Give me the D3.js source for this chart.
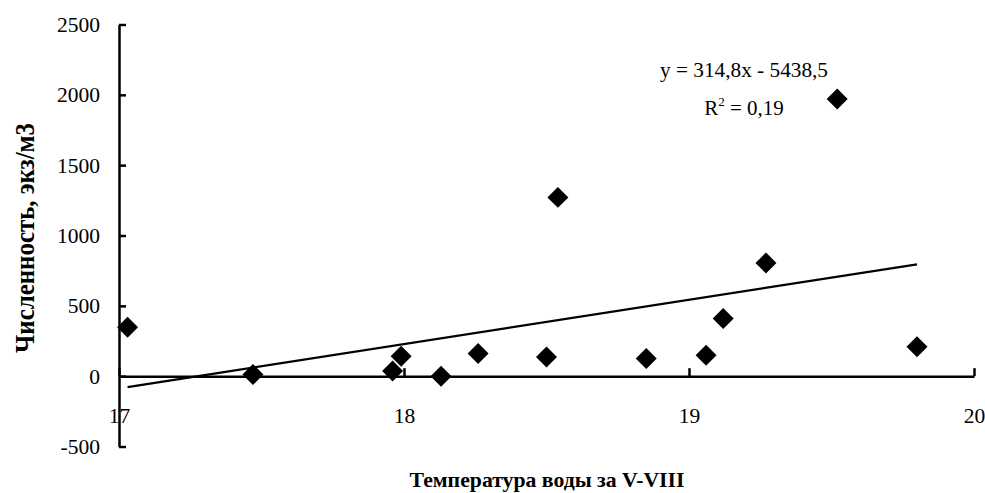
<!DOCTYPE html>
<meta charset="utf-8">
<script src="https://d3js.org/d3.v7.min.js"></script>
<style>
  body { margin: 0; background: #fff; }
  text { font-family: "Liberation Serif", "Times New Roman", serif; fill: #000; }
</style>
<svg id="chart" width="985" height="493"></svg>
<script>
// data
const temps  = [17.03, 17.47, 17.96, 17.99, 18.13, 18.26, 18.50, 18.54, 18.85, 19.06, 19.12, 19.27, 19.52, 19.80];
const counts = [348, 12, 36, 142, 0, 161, 137, 1271, 126, 149, 410, 805, 1970, 209];
const xTicks = [17, 18, 19, 20];
const yTicks = [-500, 0, 500, 1000, 1500, 2000, 2500];
const slope = 314.8, intercept = -5438.5;
const eqLabel = "y = 314,8x - 5438,5";
const r2Value = "0,19";
const xTitle = "Температура воды за V-VIII";
const yTitle = "Численность, экз/м3";

const svg = d3.select("#chart");
svg.append("rect").attr("width", 985).attr("height", 493).attr("fill", "#fff");

const x = d3.scaleLinear().domain([17, 20]).range([119, 974]);
const y = d3.scaleLinear().domain([-500, 2500]).range([446.5, 24.5]);
const plain = d => String(d);   // keep the hyphen in "-500"

// x axis on the zero line, ticks pointing up
const xAxis = svg.append("g")
  .attr("transform", `translate(0,${y(0)})`)
  .call(d3.axisBottom(x).tickValues(xTicks).tickFormat(plain)
    .tickSizeInner(-8).tickSizeOuter(0).tickPadding(32));

// y axis, ticks pointing right
const yAxis = svg.append("g")
  .attr("transform", `translate(${x(17)},0)`)
  .call(d3.axisLeft(y).tickValues(yTicks).tickFormat(plain)
    .tickSizeInner(-7).tickSizeOuter(0).tickPadding(19));

[xAxis, yAxis].forEach(g => {
  g.attr("font-family", null).attr("font-size", null);
  g.selectAll("path, line").attr("stroke", "#000").attr("stroke-width", 2.5);
  g.selectAll("text").style("font-size", "21.5px");
});
// y axis line sits over the "17" label like in the original
yAxis.raise();

// trend line
const xMin = d3.min(temps), xMax = d3.max(temps);
svg.append("line")
  .attr("x1", x(xMin)).attr("y1", y(slope * xMin + intercept))
  .attr("x2", x(xMax)).attr("y2", y(slope * xMax + intercept))
  .attr("stroke", "#000").attr("stroke-width", 2.2);

// diamond markers
const diamond = d3.symbol().type(d3.symbolSquare).size(220);
svg.append("g")
  .selectAll("path")
  .data(temps.map((t, i) => [t, counts[i]]))
  .join("path")
    .attr("d", diamond)
    .attr("transform", d => `translate(${x(d[0])},${y(d[1])}) rotate(45)`)
    .attr("fill", "#000");

// equation and R²
svg.append("text")
  .attr("x", 744).attr("y", 77)
  .attr("text-anchor", "middle").style("font-size", "21px")
  .attr("textLength", 168).attr("lengthAdjust", "spacingAndGlyphs")
  .text(eqLabel);
const r2 = svg.append("text")
  .attr("x", 744).attr("y", 115)
  .attr("text-anchor", "middle").style("font-size", "21px");
r2.append("tspan").text("R");
r2.append("tspan").style("font-size", "13px").attr("dy", -9).text("2");
r2.append("tspan").attr("dy", 9).text(" = " + r2Value);

// axis titles
svg.append("text")
  .attr("x", 547).attr("y", 487)
  .attr("text-anchor", "middle").style("font-size", "22px").attr("font-weight", "bold")
  .attr("textLength", 275).attr("lengthAdjust", "spacingAndGlyphs")
  .text(xTitle);
svg.append("text")
  .attr("transform", "translate(34,238) rotate(-90)")
  .attr("text-anchor", "middle").style("font-size", "27px").attr("font-weight", "bold")
  .attr("textLength", 230).attr("lengthAdjust", "spacingAndGlyphs")
  .text(yTitle);
</script>
